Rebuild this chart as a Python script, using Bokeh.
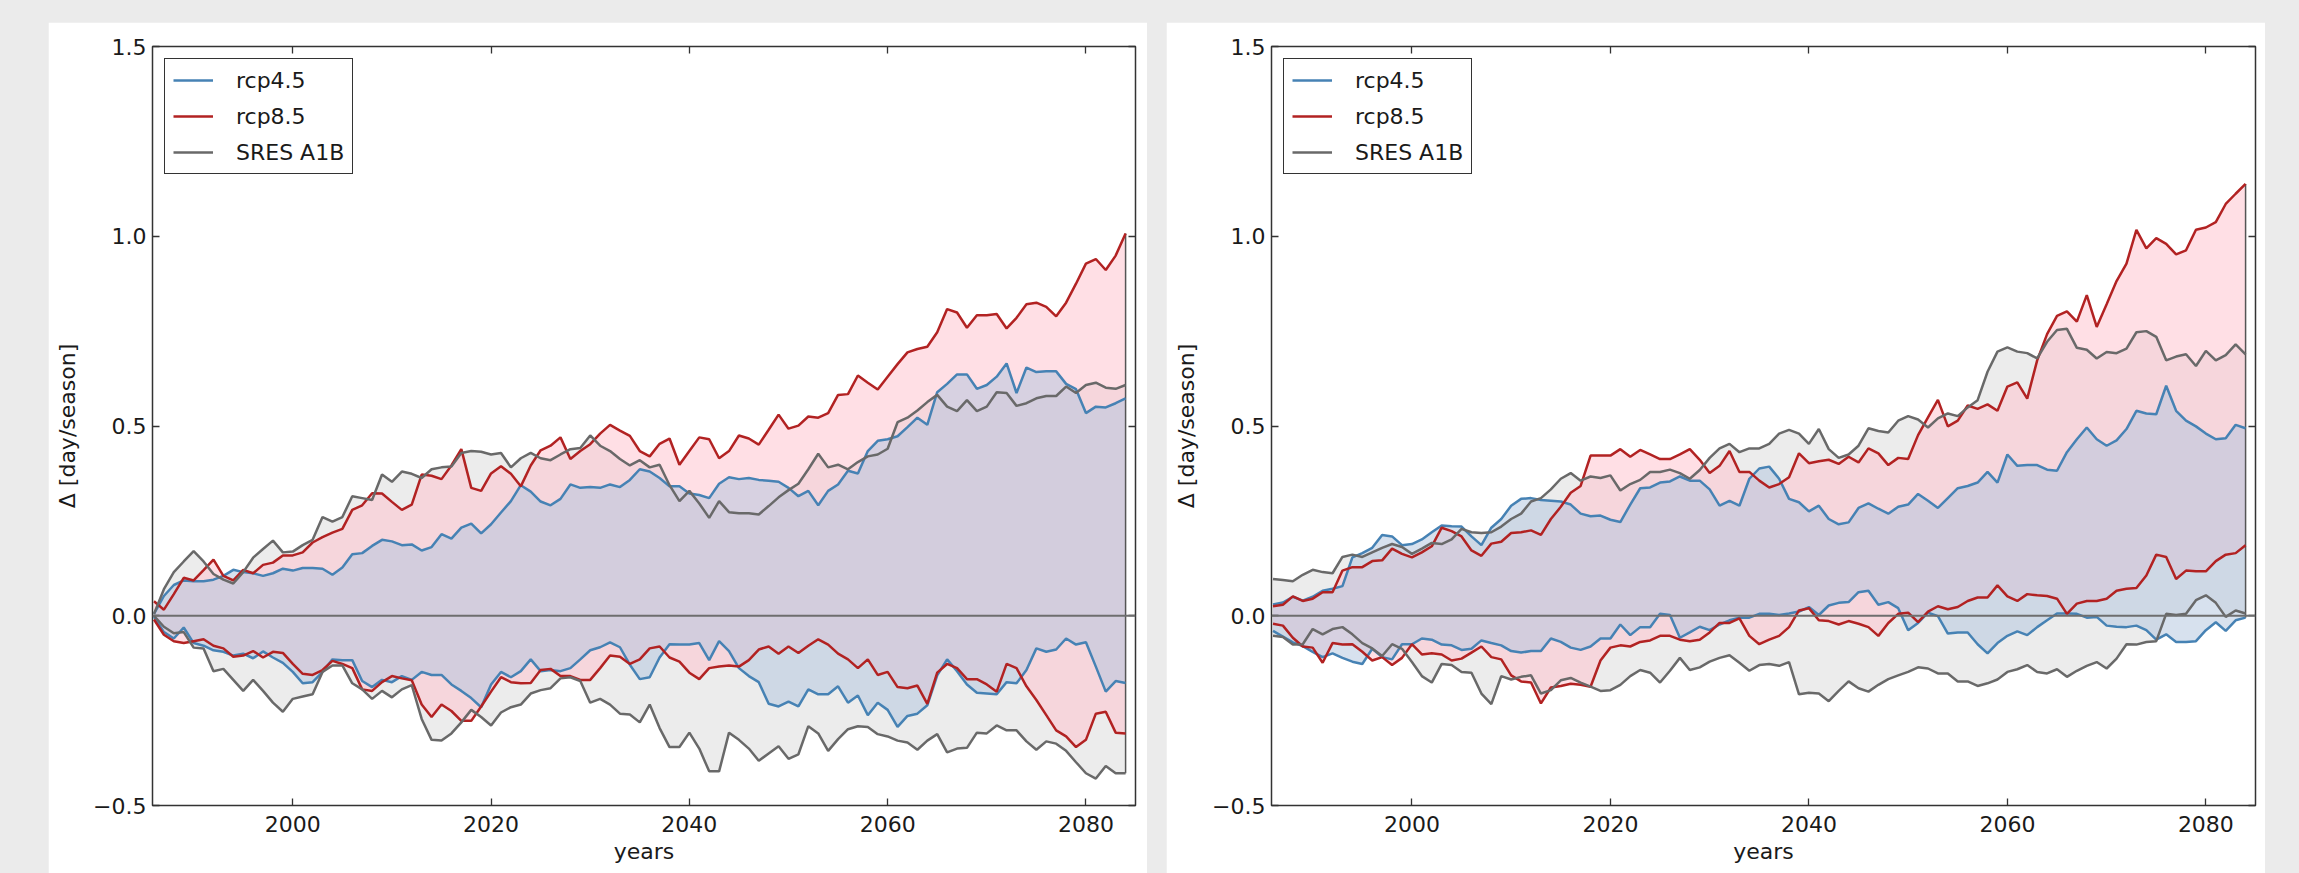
from bokeh.plotting import figure
from bokeh.models import (Range1d, FixedTicker, LinearAxis, Span, Legend,
                          LegendItem, ColumnDataSource)
from bokeh.layouts import row
from bokeh.embed import file_html
from bokeh.resources import INLINE

# ---------------- data ----------------
years = list(range(1986, 2085))

x_ticks = [2000, 2020, 2040, 2060, 2080]
y_ticks = [-0.5, 0.0, 0.5, 1.0, 1.5]
y_tick_labels = ["\u22120.5", "0.0", "0.5", "1.0", "1.5"]
series_labels = ["rcp4.5", "rcp8.5", "SRES A1B"]
x_label = "years"
y_label = "\u0394 [day/season]"

# left panel
L_rcp45_hi = [0.005, 0.052, 0.081, 0.093, 0.091, 0.091, 0.095, 0.105, 0.121, 0.115, 0.112, 0.105, 0.112, 0.124, 0.119, 0.126, 0.126, 0.124, 0.108, 0.127, 0.162, 0.165, 0.184, 0.200, 0.196,
              0.186, 0.188, 0.172, 0.181, 0.215, 0.203, 0.232, 0.243, 0.217, 0.241, 0.272, 0.302, 0.344, 0.327, 0.301, 0.291, 0.308, 0.346, 0.337, 0.339, 0.337, 0.346, 0.339, 0.358, 0.386,
              0.380, 0.363, 0.341, 0.341, 0.322, 0.318, 0.310, 0.348, 0.365, 0.360, 0.363, 0.358, 0.356, 0.353, 0.337, 0.315, 0.329, 0.291, 0.329, 0.346, 0.382, 0.375, 0.434, 0.461, 0.465,
              0.473, 0.497, 0.522, 0.503, 0.589, 0.611, 0.636, 0.636, 0.598, 0.608, 0.630, 0.665, 0.587, 0.654, 0.642, 0.644, 0.644, 0.611, 0.597, 0.534, 0.551, 0.549, 0.560, 0.573]
L_rcp45_lo = [-0.003, -0.043, -0.060, -0.031, -0.072, -0.079, -0.091, -0.095, -0.105, -0.100, -0.112, -0.094, -0.110, -0.124, -0.148, -0.178, -0.175, -0.148, -0.115, -0.117, -0.117, -0.172, -0.188, -0.169, -0.175,
              -0.159, -0.169, -0.148, -0.156, -0.156, -0.181, -0.198, -0.217, -0.241, -0.181, -0.148, -0.162, -0.146, -0.115, -0.146, -0.143, -0.146, -0.138, -0.115, -0.091, -0.083, -0.070, -0.083, -0.129, -0.167,
              -0.162, -0.110, -0.075, -0.076, -0.076, -0.072, -0.117, -0.067, -0.093, -0.138, -0.159, -0.175, -0.232, -0.239, -0.226, -0.239, -0.194, -0.207, -0.207, -0.186, -0.229, -0.210, -0.262, -0.229, -0.248,
              -0.293, -0.264, -0.258, -0.236, -0.157, -0.115, -0.146, -0.181, -0.203, -0.205, -0.207, -0.175, -0.178, -0.143, -0.086, -0.095, -0.089, -0.060, -0.076, -0.070, -0.134, -0.200, -0.172, -0.177]
L_rcp85_hi = [0.038, 0.016, 0.057, 0.100, 0.093, 0.120, 0.148, 0.105, 0.093, 0.121, 0.112, 0.134, 0.140, 0.159, 0.159, 0.167, 0.193, 0.207, 0.219, 0.229, 0.279, 0.291, 0.323, 0.322, 0.300,
              0.279, 0.293, 0.372, 0.369, 0.360, 0.396, 0.439, 0.337, 0.329, 0.375, 0.394, 0.374, 0.341, 0.396, 0.436, 0.448, 0.470, 0.413, 0.434, 0.452, 0.480, 0.503, 0.488, 0.474, 0.434,
              0.420, 0.453, 0.467, 0.398, 0.434, 0.470, 0.465, 0.415, 0.434, 0.475, 0.467, 0.451, 0.490, 0.530, 0.493, 0.501, 0.525, 0.522, 0.534, 0.582, 0.584, 0.633, 0.614, 0.596, 0.630,
              0.663, 0.694, 0.703, 0.709, 0.747, 0.808, 0.799, 0.759, 0.792, 0.792, 0.795, 0.757, 0.785, 0.821, 0.825, 0.814, 0.789, 0.825, 0.875, 0.928, 0.940, 0.911, 0.949, 1.007]
L_rcp85_lo = [-0.010, -0.050, -0.067, -0.072, -0.067, -0.062, -0.079, -0.086, -0.108, -0.105, -0.093, -0.110, -0.095, -0.098, -0.127, -0.153, -0.156, -0.143, -0.119, -0.127, -0.138, -0.194, -0.198, -0.175, -0.159,
              -0.165, -0.170, -0.234, -0.267, -0.234, -0.251, -0.277, -0.277, -0.239, -0.200, -0.162, -0.175, -0.178, -0.177, -0.143, -0.140, -0.159, -0.159, -0.169, -0.169, -0.138, -0.105, -0.108, -0.127, -0.115,
              -0.086, -0.081, -0.110, -0.121, -0.150, -0.167, -0.138, -0.134, -0.131, -0.134, -0.117, -0.089, -0.081, -0.100, -0.081, -0.098, -0.079, -0.062, -0.076, -0.100, -0.115, -0.138, -0.115, -0.156, -0.148,
              -0.188, -0.191, -0.184, -0.232, -0.150, -0.127, -0.138, -0.167, -0.167, -0.181, -0.200, -0.127, -0.138, -0.186, -0.222, -0.262, -0.302, -0.318, -0.346, -0.327, -0.258, -0.253, -0.308, -0.310]
L_a1b_hi = [0.005, 0.070, 0.115, 0.143, 0.170, 0.143, 0.110, 0.095, 0.085, 0.115, 0.153, 0.176, 0.198, 0.167, 0.169, 0.186, 0.200, 0.260, 0.248, 0.260, 0.315, 0.310, 0.305, 0.372, 0.353,
            0.380, 0.374, 0.363, 0.386, 0.391, 0.393, 0.429, 0.434, 0.432, 0.425, 0.429, 0.391, 0.415, 0.429, 0.415, 0.410, 0.425, 0.439, 0.442, 0.475, 0.448, 0.434, 0.413, 0.396, 0.410,
            0.391, 0.398, 0.344, 0.302, 0.329, 0.296, 0.258, 0.302, 0.273, 0.270, 0.270, 0.267, 0.289, 0.312, 0.331, 0.348, 0.386, 0.427, 0.391, 0.398, 0.386, 0.405, 0.420, 0.425, 0.440,
            0.510, 0.522, 0.541, 0.563, 0.582, 0.551, 0.539, 0.568, 0.539, 0.551, 0.589, 0.587, 0.553, 0.560, 0.573, 0.579, 0.579, 0.604, 0.587, 0.608, 0.614, 0.601, 0.598, 0.608]
L_a1b_lo = [0.000, -0.029, -0.046, -0.043, -0.084, -0.086, -0.146, -0.140, -0.169, -0.198, -0.169, -0.198, -0.229, -0.253, -0.219, -0.213, -0.207, -0.148, -0.131, -0.131, -0.178, -0.194, -0.219, -0.198, -0.215,
            -0.194, -0.183, -0.272, -0.327, -0.329, -0.310, -0.281, -0.248, -0.267, -0.289, -0.255, -0.241, -0.234, -0.205, -0.196, -0.191, -0.165, -0.162, -0.172, -0.229, -0.219, -0.234, -0.258, -0.260, -0.281,
            -0.234, -0.296, -0.346, -0.346, -0.308, -0.350, -0.410, -0.410, -0.308, -0.327, -0.350, -0.382, -0.363, -0.344, -0.377, -0.365, -0.291, -0.310, -0.356, -0.325, -0.299, -0.291, -0.293, -0.312, -0.318,
            -0.329, -0.334, -0.353, -0.329, -0.312, -0.360, -0.350, -0.348, -0.308, -0.310, -0.289, -0.302, -0.302, -0.331, -0.353, -0.331, -0.337, -0.356, -0.386, -0.415, -0.429, -0.396, -0.415, -0.415]

# right panel
R_rcp45_hi = [0.030, 0.035, 0.050, 0.040, 0.050, 0.066, 0.071, 0.078, 0.154, 0.165, 0.179, 0.213, 0.209, 0.186, 0.189, 0.201, 0.220, 0.238, 0.236, 0.235, 0.209, 0.186, 0.232, 0.255, 0.290,
              0.308, 0.310, 0.305, 0.303, 0.301, 0.293, 0.269, 0.262, 0.264, 0.253, 0.247, 0.293, 0.336, 0.338, 0.351, 0.354, 0.367, 0.356, 0.356, 0.333, 0.290, 0.303, 0.290, 0.361, 0.388,
              0.393, 0.361, 0.308, 0.299, 0.275, 0.290, 0.255, 0.241, 0.246, 0.284, 0.296, 0.282, 0.269, 0.287, 0.293, 0.321, 0.303, 0.284, 0.310, 0.336, 0.342, 0.351, 0.379, 0.351, 0.425,
              0.395, 0.397, 0.397, 0.385, 0.382, 0.431, 0.465, 0.496, 0.465, 0.448, 0.462, 0.492, 0.540, 0.533, 0.531, 0.606, 0.540, 0.514, 0.499, 0.480, 0.465, 0.468, 0.503, 0.494]
R_rcp45_lo = [-0.040, -0.055, -0.070, -0.080, -0.095, -0.109, -0.099, -0.111, -0.121, -0.127, -0.087, -0.109, -0.115, -0.075, -0.075, -0.060, -0.063, -0.076, -0.078, -0.090, -0.087, -0.065, -0.072, -0.078, -0.093,
              -0.097, -0.093, -0.093, -0.060, -0.069, -0.084, -0.090, -0.081, -0.060, -0.060, -0.023, -0.051, -0.030, -0.030, 0.005, 0.002, -0.058, -0.044, -0.029, -0.038, -0.023, -0.012, -0.005, -0.005, 0.005,
              0.005, 0.002, 0.006, 0.011, 0.023, 0.002, 0.027, 0.034, 0.036, 0.062, 0.066, 0.029, 0.036, 0.020, -0.038, -0.019, 0.008, -0.001, -0.047, -0.044, -0.044, -0.075, -0.099, -0.072, -0.053,
              -0.041, -0.051, -0.030, -0.012, 0.006, 0.006, 0.005, -0.005, -0.003, -0.026, -0.029, -0.030, -0.026, -0.038, -0.063, -0.049, -0.069, -0.069, -0.067, -0.038, -0.017, -0.040, -0.012, -0.005]
R_rcp85_hi = [0.025, 0.029, 0.051, 0.039, 0.045, 0.062, 0.062, 0.119, 0.128, 0.128, 0.144, 0.146, 0.177, 0.163, 0.154, 0.167, 0.183, 0.232, 0.223, 0.209, 0.172, 0.158, 0.190, 0.195, 0.218,
              0.220, 0.225, 0.213, 0.255, 0.287, 0.324, 0.342, 0.422, 0.422, 0.422, 0.439, 0.419, 0.437, 0.425, 0.413, 0.413, 0.425, 0.439, 0.411, 0.376, 0.395, 0.434, 0.379, 0.379, 0.356,
              0.338, 0.347, 0.365, 0.428, 0.402, 0.407, 0.411, 0.400, 0.419, 0.404, 0.441, 0.428, 0.397, 0.416, 0.413, 0.476, 0.523, 0.569, 0.499, 0.514, 0.554, 0.545, 0.557, 0.540, 0.604,
              0.615, 0.572, 0.673, 0.742, 0.790, 0.802, 0.775, 0.845, 0.761, 0.821, 0.882, 0.928, 1.017, 0.968, 0.995, 0.980, 0.952, 0.963, 1.017, 1.023, 1.037, 1.085, 1.112, 1.138]
R_rcp85_lo = [-0.021, -0.026, -0.058, -0.081, -0.084, -0.124, -0.072, -0.076, -0.075, -0.095, -0.118, -0.109, -0.130, -0.111, -0.075, -0.102, -0.099, -0.102, -0.118, -0.113, -0.097, -0.081, -0.109, -0.115, -0.157,
              -0.173, -0.176, -0.231, -0.189, -0.185, -0.179, -0.182, -0.187, -0.118, -0.084, -0.078, -0.081, -0.069, -0.065, -0.053, -0.053, -0.063, -0.067, -0.063, -0.044, -0.019, -0.019, -0.007, -0.053, -0.075,
              -0.063, -0.053, -0.030, 0.014, 0.020, -0.012, -0.014, -0.023, -0.014, -0.021, -0.030, -0.053, -0.019, 0.005, 0.008, -0.017, 0.011, 0.025, 0.017, 0.023, 0.039, 0.048, 0.048, 0.080, 0.051,
              0.039, 0.057, 0.054, 0.052, 0.045, 0.005, 0.032, 0.039, 0.039, 0.045, 0.066, 0.071, 0.073, 0.106, 0.161, 0.155, 0.097, 0.119, 0.117, 0.117, 0.144, 0.161, 0.165, 0.186]
R_a1b_hi = [0.097, 0.094, 0.091, 0.108, 0.121, 0.115, 0.112, 0.155, 0.161, 0.155, 0.167, 0.179, 0.189, 0.181, 0.163, 0.177, 0.192, 0.189, 0.201, 0.229, 0.220, 0.218, 0.220, 0.235, 0.255,
            0.269, 0.301, 0.310, 0.333, 0.361, 0.376, 0.356, 0.367, 0.363, 0.370, 0.330, 0.347, 0.358, 0.379, 0.379, 0.385, 0.376, 0.361, 0.384, 0.416, 0.441, 0.453, 0.431, 0.441, 0.441,
            0.453, 0.480, 0.490, 0.480, 0.453, 0.492, 0.439, 0.416, 0.425, 0.448, 0.494, 0.487, 0.483, 0.514, 0.526, 0.517, 0.496, 0.520, 0.533, 0.526, 0.549, 0.568, 0.643, 0.696, 0.707,
            0.696, 0.692, 0.678, 0.722, 0.753, 0.756, 0.706, 0.701, 0.678, 0.695, 0.692, 0.704, 0.747, 0.750, 0.735, 0.673, 0.683, 0.689, 0.658, 0.698, 0.673, 0.687, 0.715, 0.689]
R_a1b_lo = [-0.053, -0.056, -0.076, -0.075, -0.035, -0.049, -0.035, -0.030, -0.049, -0.072, -0.086, -0.106, -0.075, -0.087, -0.122, -0.159, -0.176, -0.127, -0.130, -0.148, -0.150, -0.205, -0.233, -0.159, -0.168,
            -0.161, -0.157, -0.205, -0.196, -0.170, -0.164, -0.176, -0.187, -0.198, -0.196, -0.182, -0.159, -0.143, -0.150, -0.176, -0.145, -0.111, -0.143, -0.136, -0.121, -0.111, -0.104, -0.124, -0.145, -0.130,
            -0.127, -0.132, -0.122, -0.207, -0.203, -0.205, -0.225, -0.198, -0.173, -0.191, -0.200, -0.182, -0.167, -0.157, -0.148, -0.136, -0.139, -0.152, -0.152, -0.173, -0.173, -0.185, -0.178, -0.168, -0.148,
            -0.141, -0.130, -0.148, -0.152, -0.141, -0.161, -0.145, -0.132, -0.122, -0.139, -0.113, -0.075, -0.076, -0.069, -0.067, 0.005, 0.002, 0.005, 0.041, 0.054, 0.034, -0.003, 0.014, 0.006]

# ---------------- style ----------------
FONT = "DejaVu Sans"
TXT = "#1a1a1a"
C45, C85, CA = "#4682b4", "#b22222", "#696969"
F45, F85, FA = "lightsteelblue", "pink", "#808080"
A45, A85, AA = 0.5, 0.5, 0.15


def style_axis(ax, labels=True):
    ax.axis_line_color = None
    ax.major_tick_in = 7
    ax.major_tick_out = 0
    ax.minor_tick_in = 0
    ax.minor_tick_out = 0
    ax.major_tick_line_color = "#333333"
    ax.major_tick_line_width = 1.3
    if labels:
        ax.major_label_text_font = FONT
        ax.major_label_text_font_size = "22px"
        ax.major_label_text_color = TXT
        ax.major_label_standoff = 6
        ax.axis_label_text_font = FONT
        ax.axis_label_text_font_size = "22px"
        ax.axis_label_text_font_style = "normal"
        ax.axis_label_text_color = TXT
    else:
        ax.major_label_text_font_size = "1px"
        ax.major_label_text_alpha = 0
        ax.major_label_standoff = 0


def make_panel(hi45, lo45, hi85, lo85, hia, loa, width, bl, br, margin):
    src = ColumnDataSource(dict(x=years, hi45=hi45, lo45=lo45, hi85=hi85,
                                lo85=lo85, hia=hia, loa=loa))
    p = figure(width=width, height=851,
               x_range=Range1d(1985.85, 2085.0), y_range=Range1d(-0.5, 1.5),
               output_backend="svg", toolbar_location=None,
               min_border_left=bl, min_border_right=br,
               min_border_top=24, min_border_bottom=68)
    p.margin = margin
    p.xgrid.visible = False
    p.ygrid.visible = False
    p.background_fill_color = "white"
    p.border_fill_color = "white"
    p.outline_line_color = "#333333"
    p.outline_line_width = 1.5
    p.outline_line_alpha = 1.0

    # bands
    p.varea(x="x", y1="loa", y2="hia", source=src, fill_color=FA, fill_alpha=AA)
    p.varea(x="x", y1="lo85", y2="hi85", source=src, fill_color=F85, fill_alpha=A85)
    p.varea(x="x", y1="lo45", y2="hi45", source=src, fill_color=F45, fill_alpha=A45)

    p.add_layout(Span(location=0, dimension="width", line_color="#6e6e6e",
                      line_width=2))

    # closing edge at the last year
    last_lo = min(lo45[-1], lo85[-1], loa[-1])
    last_hi = max(hi45[-1], hi85[-1], hia[-1])
    p.segment(x0=[years[-1]], y0=[last_lo], x1=[years[-1]], y1=[last_hi],
              line_color="#555555", line_width=1.5)

    r45 = p.line("x", "hi45", source=src, line_color=C45, line_width=2.5)
    p.line("x", "lo45", source=src, line_color=C45, line_width=2.5)
    r85 = p.line("x", "hi85", source=src, line_color=C85, line_width=2.5)
    p.line("x", "lo85", source=src, line_color=C85, line_width=2.5)
    ra = p.line("x", "hia", source=src, line_color=CA, line_width=2.5)
    p.line("x", "loa", source=src, line_color=CA, line_width=2.5)

    # axes
    p.xaxis.ticker = FixedTicker(ticks=x_ticks)
    p.yaxis.ticker = FixedTicker(ticks=y_ticks)
    p.yaxis.major_label_overrides = {t: l for t, l in zip(y_ticks, y_tick_labels)}
    p.xaxis.axis_label = x_label
    p.yaxis.axis_label = y_label
    for ax in p.xaxis + p.yaxis:
        style_axis(ax)
    p.xaxis.major_label_standoff = 10
    p.xaxis.axis_label_standoff = 4
    p.yaxis.axis_label_standoff = 10

    top = LinearAxis(ticker=FixedTicker(ticks=x_ticks))
    right = LinearAxis(ticker=FixedTicker(ticks=y_ticks))
    style_axis(top, labels=False)
    style_axis(right, labels=False)
    p.add_layout(top, "above")
    p.add_layout(right, "right")

    legend = Legend(items=[LegendItem(label=series_labels[0], renderers=[r45]),
                           LegendItem(label=series_labels[1], renderers=[r85]),
                           LegendItem(label=series_labels[2], renderers=[ra])],
                    location="top_left", margin=12, padding=8, spacing=10,
                    glyph_width=40, glyph_height=26, label_height=26,
                    label_standoff=23,
                    label_text_font=FONT, label_text_font_size="22px",
                    label_text_color=TXT,
                    border_line_color="#333333", border_line_width=1.5,
                    border_line_alpha=1.0,
                    background_fill_color="white", background_fill_alpha=1.0)
    p.add_layout(legend)
    return p


p1 = make_panel(L_rcp45_hi, L_rcp45_lo, L_rcp85_hi, L_rcp85_lo, L_a1b_hi, L_a1b_lo,
                width=1099, bl=104, br=12, margin=(22, 0, 0, 48))
p2 = make_panel(R_rcp45_hi, R_rcp45_lo, R_rcp85_hi, R_rcp85_lo, R_a1b_hi, R_a1b_lo,
                width=1099, bl=105, br=10, margin=(22, 0, 0, 19))

layout = row(p1, p2, width=2299, height=873,
             styles={"background-color": "#ebebeb"})

open("out.html", "w").write(file_html(layout, INLINE))
